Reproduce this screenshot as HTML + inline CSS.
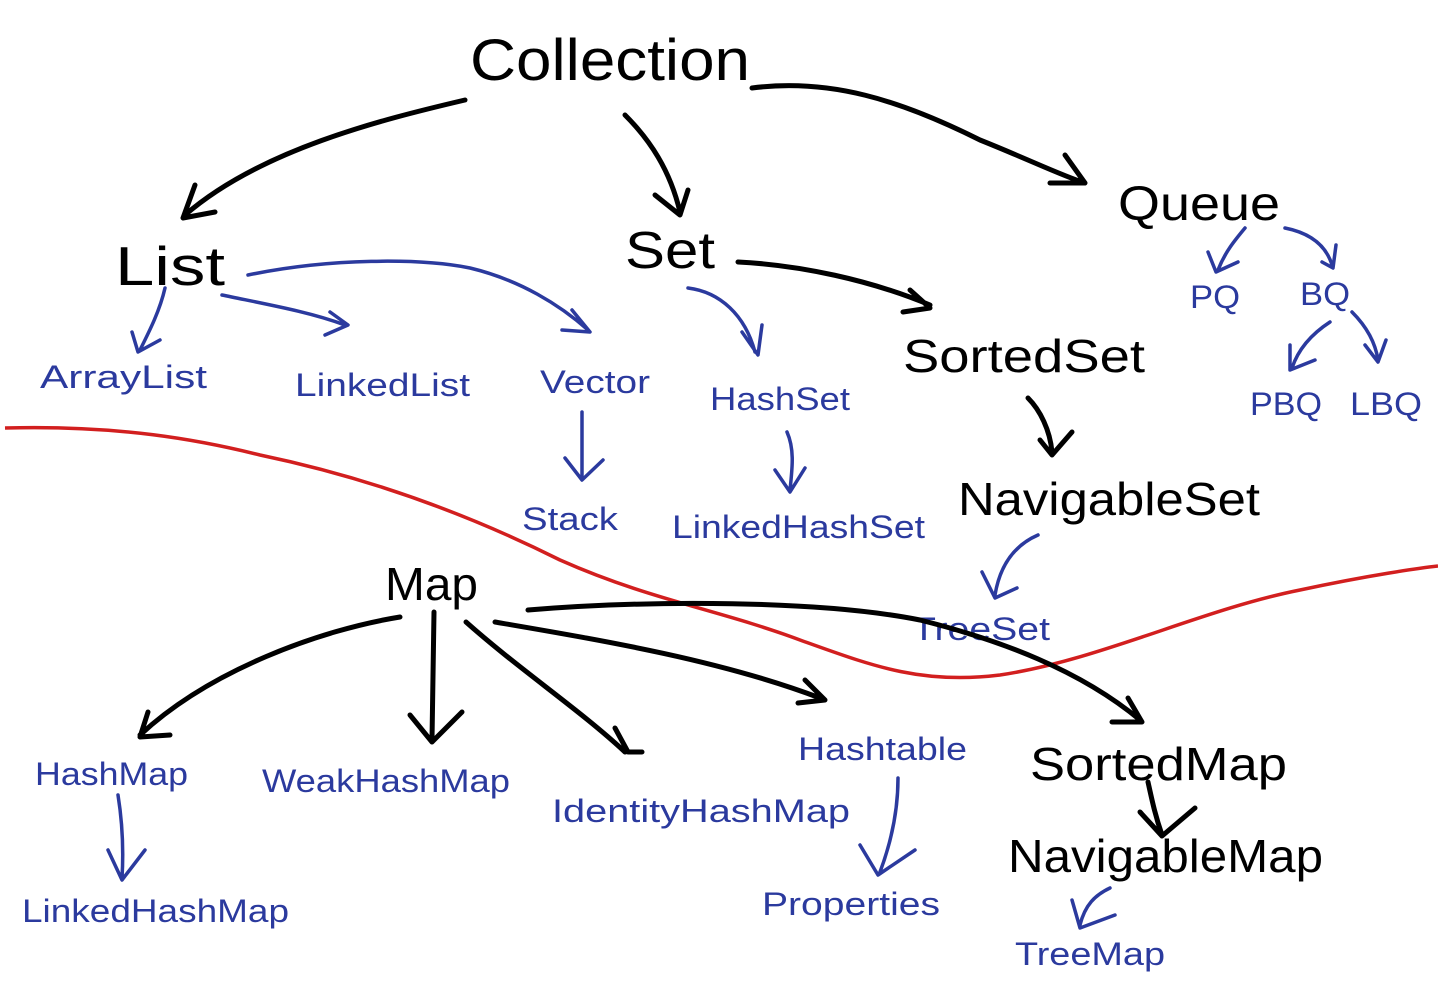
<!DOCTYPE html>
<html><head><meta charset="utf-8"><style>
html,body{margin:0;padding:0;background:#fff;}
svg{display:block}
text{font-family:"Liberation Sans",sans-serif;}
.k{fill:#000}
.b{fill:#2b3a9e}
.ks{stroke:#000;stroke-width:5;fill:none;stroke-linecap:round;stroke-linejoin:round}
.bs{stroke:#2b3a9e;stroke-width:3.5;fill:none;stroke-linecap:round;stroke-linejoin:round}
</style></head><body>
<svg width="1438" height="982" viewBox="0 0 1438 982" xmlns="http://www.w3.org/2000/svg">
<rect width="1438" height="982" fill="#fff"/>
<!-- red line -->
<path d="M5,428 C120,425 200,440 260,455 C380,480 480,520 560,560 C650,600 720,610 800,640 C870,665 920,685 1000,675 C1100,660 1200,610 1300,590 C1370,575 1420,568 1438,566" stroke="#d21f1f" stroke-width="3.5" fill="none"/>

<!-- black text -->
<text class="k" x="470" y="80" font-size="58" textLength="280" lengthAdjust="spacingAndGlyphs">Collection</text>
<text class="k" x="115" y="285" font-size="55" textLength="110" lengthAdjust="spacingAndGlyphs">List</text>
<text class="k" x="625" y="268" font-size="52" textLength="90" lengthAdjust="spacingAndGlyphs">Set</text>
<text class="k" x="1118" y="220" font-size="48" textLength="162" lengthAdjust="spacingAndGlyphs">Queue</text>
<text class="k" x="903" y="372" font-size="46" textLength="242" lengthAdjust="spacingAndGlyphs">SortedSet</text>
<text class="k" x="958" y="515" font-size="46" textLength="302" lengthAdjust="spacingAndGlyphs">NavigableSet</text>
<text class="k" x="385" y="600" font-size="46" textLength="93" lengthAdjust="spacingAndGlyphs">Map</text>
<text class="k" x="1030" y="780" font-size="46" textLength="257" lengthAdjust="spacingAndGlyphs">SortedMap</text>
<text class="k" x="1008" y="872" font-size="46" textLength="315" lengthAdjust="spacingAndGlyphs">NavigableMap</text>

<!-- blue text -->
<g class="b" font-size="32">
<text x="1190" y="308" textLength="50" lengthAdjust="spacingAndGlyphs">PQ</text>
<text x="1300" y="305" textLength="50" lengthAdjust="spacingAndGlyphs">BQ</text>
<text x="1250" y="415" textLength="72" lengthAdjust="spacingAndGlyphs">PBQ</text>
<text x="1350" y="415" textLength="72" lengthAdjust="spacingAndGlyphs">LBQ</text>
<text x="40" y="388" textLength="167" lengthAdjust="spacingAndGlyphs">ArrayList</text>
<text x="295" y="396" textLength="175" lengthAdjust="spacingAndGlyphs">LinkedList</text>
<text x="540" y="393" textLength="110" lengthAdjust="spacingAndGlyphs">Vector</text>
<text x="710" y="410" textLength="140" lengthAdjust="spacingAndGlyphs">HashSet</text>
<text x="522" y="530" textLength="96" lengthAdjust="spacingAndGlyphs">Stack</text>
<text x="672" y="538" textLength="253" lengthAdjust="spacingAndGlyphs">LinkedHashSet</text>
<text x="912" y="640" textLength="138" lengthAdjust="spacingAndGlyphs">TreeSet</text>
<text x="35" y="785" textLength="153" lengthAdjust="spacingAndGlyphs">HashMap</text>
<text x="262" y="792" textLength="248" lengthAdjust="spacingAndGlyphs">WeakHashMap</text>
<text x="552" y="822" textLength="298" lengthAdjust="spacingAndGlyphs">IdentityHashMap</text>
<text x="798" y="760" textLength="169" lengthAdjust="spacingAndGlyphs">Hashtable</text>
<text x="1015" y="965" textLength="150" lengthAdjust="spacingAndGlyphs">TreeMap</text>
<text x="762" y="915" textLength="178" lengthAdjust="spacingAndGlyphs">Properties</text>
<text x="22" y="922" textLength="267" lengthAdjust="spacingAndGlyphs">LinkedHashMap</text>
</g>

<!-- black arrows -->
<path class="ks" d="M465,100 C380,120 260,150 185,215 M195,185 L183,218 L215,212"/>
<path class="ks" d="M625,115 C650,140 670,170 680,212 M655,195 L680,215 L688,190"/>
<path class="ks" d="M752,88 C830,78 900,100 980,140 C1030,160 1060,175 1085,183 M1065,155 L1085,183 L1050,183"/>
<path class="ks" d="M738,262 C800,265 870,280 930,305 M910,290 L930,308 L903,312"/>
<path class="ks" d="M1028,398 C1040,410 1050,430 1052,452 M1040,440 L1052,455 L1072,432"/>
<path class="ks" d="M400,617 C320,630 210,670 140,735 M148,712 L140,737 L170,735"/>
<path class="ks" d="M434,612 L432,740 M410,715 L432,742 L462,712"/>
<path class="ks" d="M466,622 C520,670 580,710 625,752 M615,728 L628,752 L642,752"/>
<path class="ks" d="M495,622 C600,640 720,660 820,698 M805,680 L825,700 L798,703"/>
<path class="ks" d="M528,610 C650,600 820,600 920,620 C1000,640 1080,670 1140,720 M1128,698 L1142,722 L1112,722"/>
<path class="ks" d="M1148,782 C1152,800 1155,815 1162,835 M1140,812 L1162,836 L1195,808"/>

<!-- blue arrows -->
<path class="bs" d="M1245,228 C1235,240 1225,252 1218,270 M1208,252 L1216,272 L1238,262"/>
<path class="bs" d="M1285,228 C1305,232 1325,242 1332,265 M1322,262 L1333,268 L1336,245"/>
<path class="bs" d="M1330,322 C1310,335 1298,350 1292,368 M1290,345 L1290,370 L1315,360"/>
<path class="bs" d="M1352,312 C1365,325 1375,340 1378,360 M1365,345 L1378,362 L1386,340"/>
<path class="bs" d="M165,288 C160,310 150,330 140,350 M132,332 L138,352 L160,340"/>
<path class="bs" d="M222,295 C270,305 310,312 345,325 M330,312 L348,325 L325,335"/>
<path class="bs" d="M248,275 C330,258 420,258 470,268 C520,280 560,305 588,330 M572,310 L590,332 L562,330"/>
<path class="bs" d="M688,288 C720,292 745,315 755,352 M742,332 L758,355 L762,325"/>
<path class="bs" d="M582,412 L582,478 M565,458 L582,480 L603,460"/>
<path class="bs" d="M787,432 C795,450 792,470 790,490 M775,470 L790,492 L805,468"/>
<path class="bs" d="M1038,535 C1015,545 1000,565 995,595 M982,572 L995,598 L1017,588"/>
<path class="bs" d="M118,795 C122,820 124,845 122,878 M108,850 L122,880 L145,850"/>
<path class="bs" d="M898,778 C898,810 892,840 880,872 M860,845 L878,875 L915,850"/>
<path class="bs" d="M1110,888 C1095,895 1085,905 1080,925 M1072,900 L1080,928 L1115,915"/>
</svg>
</body></html>
